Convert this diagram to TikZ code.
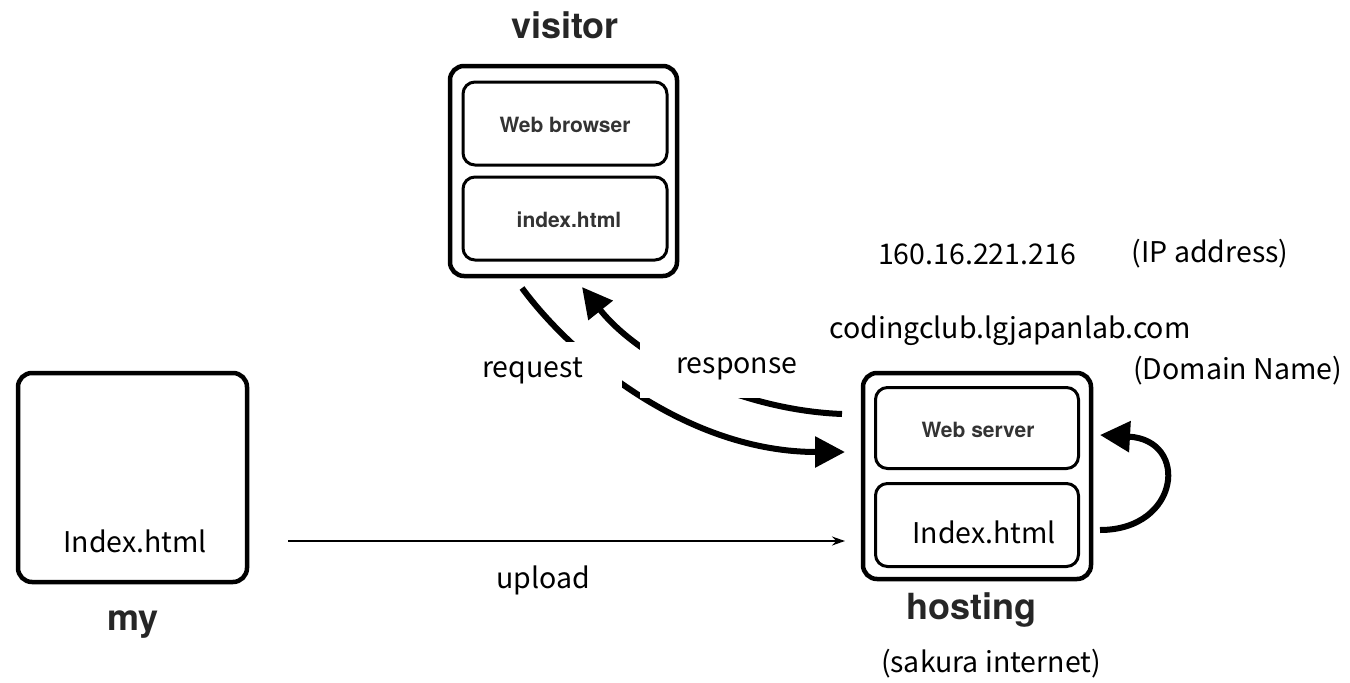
\documentclass[tikz,border=0pt]{standalone}
\usepackage{fontspec}
\setmainfont{Noto Sans CJK KR}
\newfontfamily\helv{TeX Gyre Heros}
\usetikzlibrary{arrows.meta}
\begin{document}
\begin{tikzpicture}[x=1pt,y=-1pt,
  outerbox/.style={draw,line width=4.5pt,rounded corners=14pt,inner sep=0pt},
  innerbox/.style={draw,line width=3pt,rounded corners=12pt,inner sep=0pt,minimum width=204pt,minimum height=83pt},
  titlelbl/.style={font=\helv\bfseries\fontsize{36}{42}\selectfont,text=black!85},
  smalllbl/.style={font=\helv\bfseries\fontsize{21}{25}\selectfont,text=black!80},
  txt/.style={font=\fontsize{28.5}{33}\selectfont,inner sep=0pt},
  bigarrow/.style={line width=6pt,-{Triangle[length=30pt,width=30pt]}},
  thinarrow/.style={line width=1.5pt,-{Stealth[length=13pt,width=9pt]}},
  mask/.style={fill=white,inner sep=0pt,font=\fontsize{28.5}{33}\selectfont}]
\useasboundingbox (0,0) rectangle (1350,683);
\fill[white] (0,0) rectangle (1350,683);

% visitor
\node[titlelbl] (visitorlbl) at (565,25) {visitor};
\node[outerbox,minimum width=227pt,minimum height=210pt] (visitor) at (563.5,171) {};
\node[innerbox] (browser) at (565,123.5) {};
\node[smalllbl] (browsertxt) at (565,125) {Web browser};
\node[innerbox] (vindex) at (565,218.5) {};
\node[smalllbl] (vindextxt) at (569,220) {index.html};

% my
\node[outerbox,minimum width=229pt,minimum height=209pt] (my) at (132.5,477.5) {};
\node[txt] (myindex) at (135,541) {Index.html};
\node[titlelbl] (mylbl) at (133,625) {my};

% hosting
\node[outerbox,minimum width=228pt,minimum height=206pt] (host) at (977,476) {};
\node[innerbox,minimum width=203pt,minimum height=81pt] (server) at (977,428) {};
\node[smalllbl] (servertxt) at (978,430) {Web server};
\node[innerbox,minimum width=203pt] (hindex) at (977,525) {};
\node[txt] (hindextxt) at (984,532) {Index.html};
\node[titlelbl] (hostlbl) at (971,610) {hosting};
\node[txt] (sakura) at (991,664) {(sakura internet)};

% addresses
\node[txt] (ip) at (977,254) {160.16.221.216};
\node[txt] (iplbl) at (1210,254) {(IP address)};
\node[txt] (domain) at (1010,331) {codingclub.lgjapanlab.com};
\node[txt,anchor=west] (domainlbl) at (1133,371) {(Domain Name)};

% request / response
\coordinate (reqS) at (522,288);
\coordinate (reqE) at (845,452);
\coordinate (resS) at (842,414);
\coordinate (resE) at (582,287);
\draw[bigarrow] (reqS) .. controls (575,360) and (690,452) .. (reqE);
\draw[bigarrow] (resS) .. controls (740,410) and (640,360) .. (resE);
\node[mask,minimum width=142pt,minimum height=58pt,text width=138pt,align=left] (req) at (551,371) {request};
\node[mask,minimum width=160pt,minimum height=58pt,text width=155pt,align=right] (res) at (720,369) {response};

% self loop
\coordinate (loopS) at (1100,530);
\coordinate (loopE) at (1100,435);
\draw[bigarrow] (loopS) .. controls (1180,530) and (1190,440) .. (loopE);

% upload
\coordinate (upS) at (288,541);
\coordinate (upE) at (845,541);
\draw[thinarrow] (upS) -- (upE);
\node[txt] (uplbl) at (543,580) {upload};
\end{tikzpicture}
\end{document}
